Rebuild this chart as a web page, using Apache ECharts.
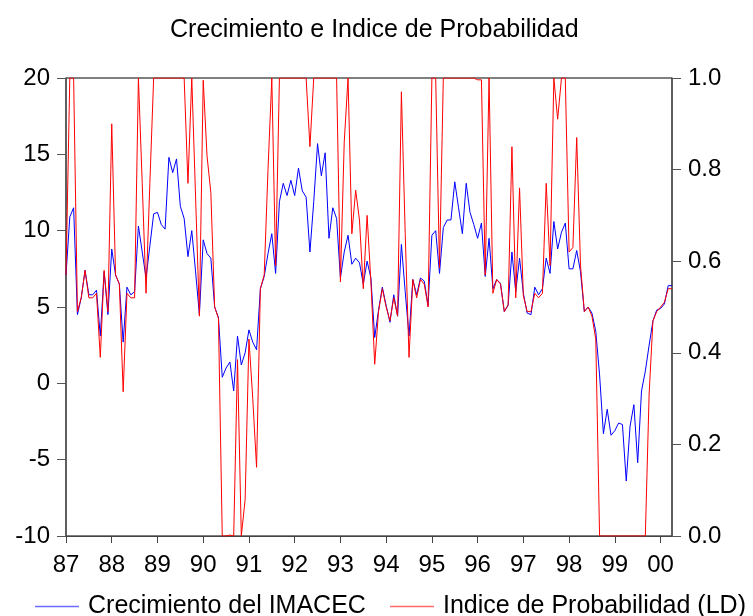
<!DOCTYPE html>
<html lang="es">
<head>
<meta charset="UTF-8">
<title>Crecimiento e Indice de Probabilidad</title>
<script src="https://cdn.jsdelivr.net/npm/echarts@6/dist/echarts.min.js"></script>
<style>
    html, body { margin: 0; padding: 0; background: #fff; }
    #main { width: 753px; height: 616px; }
</style>
</head>
<body>
<div id="main"></div>
<script type="text/javascript">
    // meses 1987M01 .. 2000M04
    var months = [];
    for (var y = 1987; y <= 2000; y++) {
        for (var m = 1; m <= 12; m++) {
            if (y === 2000 && m > 4) break;
            months.push(y + 'M' + (m < 10 ? '0' + m : m));
        }
    }

    // crecimiento del IMACEC (%), eje izquierdo
    var imacec = [
        7.1, 10.9, 11.5, 4.5, 5.6, 7.4, 5.8, 5.8, 6.1, 3.1, 7.3, 4.5,
        8.8, 7.1, 6.5, 2.7, 6.3, 5.8, 6.0, 10.3, 8.6, 6.9, 9.0, 11.1,
        11.2, 10.4, 10.1, 14.8, 13.8, 14.7, 11.6, 10.8, 8.3, 10.0, 7.3, 4.5,
        9.4, 8.5, 8.2, 5.0, 4.3, 0.4, 1.0, 1.4, -0.5, 3.1, 1.2, 2.0,
        3.5, 2.7, 2.2, 6.2, 7.0, 8.5, 9.8, 7.2, 11.9, 13.1, 12.3, 13.3,
        12.3, 14.1, 12.6, 12.2, 8.6, 11.9, 15.7, 13.6, 15.1, 9.5, 11.5, 10.8,
        6.9, 8.6, 9.7, 7.8, 8.2, 7.9, 6.5, 8.0, 6.9, 3.0, 4.8, 6.3,
        5.1, 4.0, 5.8, 4.4, 9.1, 6.0, 3.1, 6.8, 5.8, 6.9, 6.7, 5.1,
        9.7, 10.0, 7.2, 10.2, 10.7, 10.7, 13.2, 11.5, 9.8, 13.1, 11.2, 10.4,
        9.5, 10.5, 7.0, 9.5, 6.2, 6.8, 6.55, 4.7, 5.1, 8.6, 6.0, 8.2,
        5.9, 4.6, 4.5, 6.3, 5.8, 6.2, 8.2, 7.2, 10.6, 8.8, 9.9, 10.5,
        7.5, 7.5, 8.7, 7.3, 4.7, 5.0, 4.6, 3.4, 0.55, -3.3, -1.7, -3.4,
        -3.1, -2.6, -2.7, -6.4, -2.8, -1.4, -5.2, -0.5, 0.8, 2.5, 4.1, 4.8,
        4.9, 5.2, 6.4, 6.4
    ];

    // indice de probabilidad, eje derecho
    var probabilidad = [
        0.57, 1.0, 1.0, 0.49, 0.52, 0.58, 0.52, 0.52, 0.53, 0.39, 0.58, 0.49,
        0.90, 0.57, 0.55, 0.315, 0.53, 0.52, 0.52, 1.0, 0.77, 0.53, 0.77, 1.0,
        1.0, 1.0, 1.0, 1.0, 1.0, 1.0, 1.0, 1.0, 0.77, 1.0, 0.74, 0.48,
        0.995, 0.83, 0.75, 0.50, 0.475, 0.0, 0.0, 0.002, 0.0, 0.385, 0.0, 0.08,
        0.43, 0.30, 0.15, 0.54, 0.57, 0.80, 1.0, 0.59, 1.0, 1.0, 1.0, 1.0,
        1.0, 1.0, 1.0, 1.0, 0.85, 1.0, 1.0, 1.0, 1.0, 1.0, 1.0, 1.0,
        0.555, 0.86, 1.0, 0.66, 0.755, 0.69, 0.54, 0.70, 0.555, 0.375, 0.49, 0.54,
        0.50, 0.47, 0.52, 0.48, 0.97, 0.66, 0.39, 0.56, 0.52, 0.56, 0.55, 0.50,
        1.0, 1.0, 0.585, 1.0, 1.0, 1.0, 1.0, 1.0, 1.0, 1.0, 1.0, 1.0,
        0.996, 0.996, 0.57, 1.0, 0.53, 0.56, 0.55, 0.49, 0.505, 0.85, 0.52, 0.76,
        0.525, 0.49, 0.49, 0.53, 0.52, 0.53, 0.77, 0.59, 1.0, 0.91, 1.0, 1.0,
        0.62, 0.63, 0.87, 0.59, 0.49, 0.50, 0.48, 0.43, 0.0, 0.0, 0.0, 0.0,
        0.0, 0.0, 0.0, 0.0, 0.0, 0.0, 0.0, 0.0, 0.0, 0.31, 0.47, 0.49,
        0.50, 0.51, 0.54, 0.54
    ];

    var font = '"Liberation Sans", Arial, sans-serif';
    function isJan(i) { return i % 12 === 0; }

    function legendBox(name, left, color) {
        return {
            left: left,
            top: 594,
            padding: 0,
            icon: 'rect',
            itemWidth: 44,
            itemHeight: 1.5,
            itemStyle: { color: color },
            textStyle: { fontFamily: font, fontSize: 25, color: '#000', padding: [0, 0, 0, 4] },
            data: [name]
        };
    }

    var chart = echarts.init(document.getElementById('main'));
    var option = {
        animation: false,
        backgroundColor: '#fff',
        title: {
            text: 'Crecimiento e Indice de Probabilidad',
            left: 165,
            top: 13,
            textStyle: { fontFamily: font, fontSize: 25, fontWeight: 'normal', color: '#000' }
        },
        legend: [
            legendBox('Crecimiento del IMACEC', 35, '#6b6bff'),
            legendBox('Indice de Probabilidad (LD)', 390, '#ff6b6b')
        ],
        grid: {
            left: 66,
            right: 81,
            top: 78,
            bottom: 80,
            show: true,
            borderColor: '#000',
            borderWidth: 1
        },
        xAxis: {
            type: 'category',
            boundaryGap: false,
            data: months,
            axisLine: { onZero: false, lineStyle: { color: '#444', width: 1 } },
            axisTick: { interval: isJan, length: 7, lineStyle: { color: '#444' } },
            axisLabel: {
                interval: isJan,
                margin: 17,
                fontFamily: font,
                fontSize: 24,
                color: '#000',
                formatter: function (v) { return v.substr(2, 2); }
            },
            splitLine: { show: false }
        },
        yAxis: [{
            type: 'value',
            min: -10,
            max: 20,
            interval: 5,
            position: 'left',
            axisLine: { show: true, lineStyle: { color: '#555', width: 1.5 } },
            axisTick: { show: true, length: 9, lineStyle: { color: '#555' } },
            axisLabel: { margin: 16, fontFamily: font, fontSize: 24, color: '#000' },
            splitLine: { show: false }
        }, {
            type: 'value',
            min: 0,
            max: 1,
            interval: 0.2,
            position: 'right',
            axisLine: { show: true, lineStyle: { color: '#555', width: 1.5 } },
            axisTick: { show: true, length: 9, lineStyle: { color: '#555' } },
            axisLabel: {
                margin: 16, fontFamily: font, fontSize: 24, color: '#000',
                formatter: function (v) { return v.toFixed(1); }
            },
            splitLine: { show: false }
        }],
        series: [{
            name: 'Crecimiento del IMACEC',
            type: 'line',
            yAxisIndex: 0,
            data: imacec,
            symbol: 'none',
            lineStyle: { color: '#0000ff', width: 1 },
            itemStyle: { color: '#0000ff' }
        }, {
            name: 'Indice de Probabilidad (LD)',
            type: 'line',
            yAxisIndex: 1,
            data: probabilidad,
            symbol: 'none',
            lineStyle: { color: '#ff0000', width: 1 },
            itemStyle: { color: '#ff0000' }
        }]
    };
    chart.setOption(option);
</script>
</body>
</html>
